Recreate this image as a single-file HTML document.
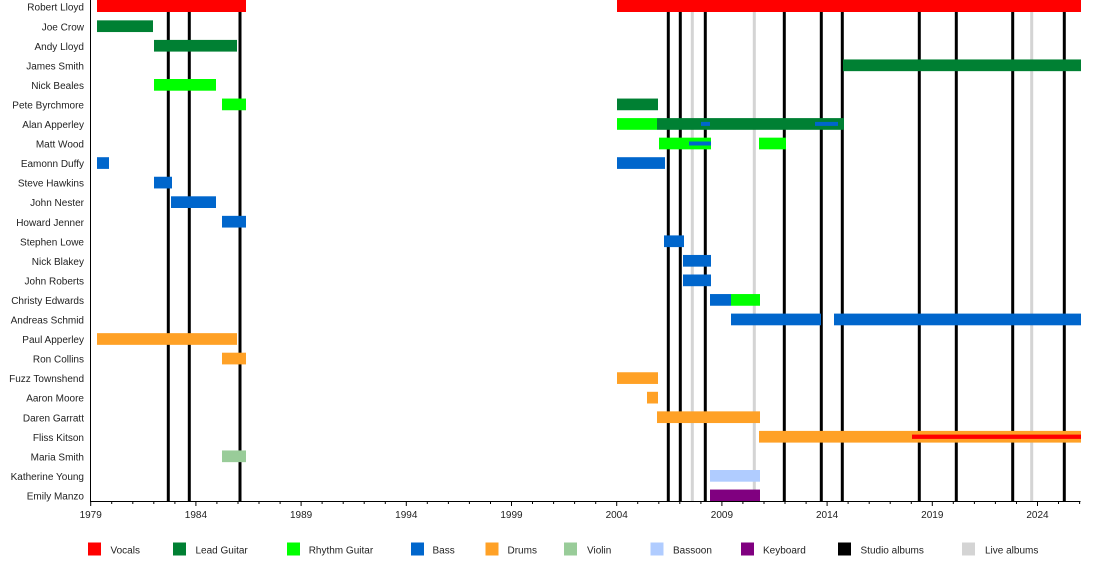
<!DOCTYPE html>
<html><head><meta charset="utf-8"><style>
html,body{margin:0;padding:0;background:#fff;}
svg{display:block;}
text{font-family:"Liberation Sans",Arial,sans-serif;font-size:10px;fill:#222;}
</style></head><body>
<svg width="1100" height="580" viewBox="0 0 1100 580" xmlns="http://www.w3.org/2000/svg">
<rect width="1100" height="580" fill="#fff"/>
<!-- album lines -->
<g stroke="#d4d4d4" stroke-width="3">
<line x1="692.3" y1="0" x2="692.3" y2="501"/>
<line x1="754.3" y1="0" x2="754.3" y2="501"/>
<line x1="1031.7" y1="0" x2="1031.7" y2="501"/>
</g>
<g stroke="#000" stroke-width="3">
<line x1="168.3" y1="0" x2="168.3" y2="501"/>
<line x1="189.3" y1="0" x2="189.3" y2="501"/>
<line x1="240" y1="0" x2="240" y2="501"/>
<line x1="668.3" y1="0" x2="668.3" y2="501"/>
<line x1="680.3" y1="0" x2="680.3" y2="501"/>
<line x1="705.3" y1="0" x2="705.3" y2="501"/>
<line x1="784.3" y1="0" x2="784.3" y2="501"/>
<line x1="821.3" y1="0" x2="821.3" y2="501"/>
<line x1="842.3" y1="0" x2="842.3" y2="501"/>
<line x1="919.3" y1="0" x2="919.3" y2="501"/>
<line x1="956.3" y1="0" x2="956.3" y2="501"/>
<line x1="1012.7" y1="0" x2="1012.7" y2="501"/>
<line x1="1064.3" y1="0" x2="1064.3" y2="501"/>
</g>
<!-- bars -->
<rect x="97" y="0" width="149" height="12" fill="#ff0000"/>
<rect x="617" y="0" width="464" height="12" fill="#ff0000"/>
<rect x="97" y="20.35" width="56" height="11.7" fill="#008033"/>
<rect x="154" y="39.9" width="83" height="11.7" fill="#008033"/>
<rect x="843" y="59.45" width="238" height="11.7" fill="#008033"/>
<rect x="154" y="79" width="62" height="11.7" fill="#00ff00"/>
<rect x="222" y="98.55" width="24" height="11.7" fill="#00ff00"/>
<rect x="617" y="98.55" width="41" height="11.7" fill="#008033"/>
<rect x="617" y="118.1" width="40" height="11.7" fill="#00ff00"/>
<rect x="657" y="118.1" width="187" height="11.7" fill="#008033"/>
<rect x="701" y="121.9" width="9" height="4" fill="#0066cc"/>
<rect x="815" y="121.9" width="23" height="4" fill="#0066cc"/>
<rect x="659" y="137.65" width="52" height="11.7" fill="#00ff00"/>
<rect x="689" y="141.5" width="22" height="4" fill="#0066cc"/>
<rect x="759" y="137.65" width="27" height="11.7" fill="#00ff00"/>
<rect x="97" y="157.2" width="12" height="11.7" fill="#0066cc"/>
<rect x="617" y="157.2" width="48" height="11.7" fill="#0066cc"/>
<rect x="154" y="176.75" width="18" height="11.7" fill="#0066cc"/>
<rect x="171" y="196.3" width="45" height="11.7" fill="#0066cc"/>
<rect x="222" y="215.85" width="24" height="11.7" fill="#0066cc"/>
<rect x="664" y="235.4" width="20" height="11.7" fill="#0066cc"/>
<rect x="683" y="254.95" width="28" height="11.7" fill="#0066cc"/>
<rect x="683" y="274.5" width="28" height="11.7" fill="#0066cc"/>
<rect x="710" y="294.05" width="21" height="11.7" fill="#0066cc"/>
<rect x="731" y="294.05" width="29" height="11.7" fill="#00ff00"/>
<rect x="731" y="313.6" width="90" height="11.7" fill="#0066cc"/>
<rect x="834" y="313.6" width="247" height="11.7" fill="#0066cc"/>
<rect x="97" y="333.15" width="140" height="11.7" fill="#ffa126"/>
<rect x="222" y="352.7" width="24" height="11.7" fill="#ffa126"/>
<rect x="617" y="372.25" width="41" height="11.7" fill="#ffa126"/>
<rect x="647" y="391.8" width="11" height="11.7" fill="#ffa126"/>
<rect x="657" y="411.35" width="103" height="11.7" fill="#ffa126"/>
<rect x="759" y="430.9" width="322" height="11.7" fill="#ffa126"/>
<rect x="912" y="434.6" width="169" height="4.3" fill="#ff0000"/>
<rect x="222" y="450.45" width="24" height="11.7" fill="#99cc99"/>
<rect x="710" y="470" width="50" height="11.7" fill="#b0ccff"/>
<rect x="710" y="489.55" width="50" height="11.7" fill="#800080"/>

<!-- axes -->
<line x1="90.5" y1="0" x2="90.5" y2="501.5" stroke="#000" stroke-width="1"/>
<line x1="90" y1="501.5" x2="1080.5" y2="501.5" stroke="#000" stroke-width="1"/>
<g stroke="#000" stroke-width="1">
<line x1="90.7" y1="501" x2="90.7" y2="506"/><line x1="111.7" y1="501" x2="111.7" y2="504"/><line x1="132.8" y1="501" x2="132.8" y2="504"/><line x1="153.8" y1="501" x2="153.8" y2="504"/><line x1="174.9" y1="501" x2="174.9" y2="504"/>
<line x1="195.9" y1="501" x2="195.9" y2="506"/><line x1="216.9" y1="501" x2="216.9" y2="504"/><line x1="238" y1="501" x2="238" y2="504"/><line x1="259" y1="501" x2="259" y2="504"/><line x1="280.1" y1="501" x2="280.1" y2="504"/>
<line x1="301.1" y1="501" x2="301.1" y2="506"/><line x1="322.1" y1="501" x2="322.1" y2="504"/><line x1="343.2" y1="501" x2="343.2" y2="504"/><line x1="364.2" y1="501" x2="364.2" y2="504"/><line x1="385.3" y1="501" x2="385.3" y2="504"/>
<line x1="406.3" y1="501" x2="406.3" y2="506"/><line x1="427.3" y1="501" x2="427.3" y2="504"/><line x1="448.4" y1="501" x2="448.4" y2="504"/><line x1="469.4" y1="501" x2="469.4" y2="504"/><line x1="490.5" y1="501" x2="490.5" y2="504"/>
<line x1="511.5" y1="501" x2="511.5" y2="506"/><line x1="532.5" y1="501" x2="532.5" y2="504"/><line x1="553.6" y1="501" x2="553.6" y2="504"/><line x1="574.6" y1="501" x2="574.6" y2="504"/><line x1="595.7" y1="501" x2="595.7" y2="504"/>
<line x1="616.7" y1="501" x2="616.7" y2="506"/><line x1="637.7" y1="501" x2="637.7" y2="504"/><line x1="658.8" y1="501" x2="658.8" y2="504"/><line x1="679.8" y1="501" x2="679.8" y2="504"/><line x1="700.9" y1="501" x2="700.9" y2="504"/>
<line x1="721.9" y1="501" x2="721.9" y2="506"/><line x1="742.9" y1="501" x2="742.9" y2="504"/><line x1="764" y1="501" x2="764" y2="504"/><line x1="785" y1="501" x2="785" y2="504"/><line x1="806.1" y1="501" x2="806.1" y2="504"/>
<line x1="827.1" y1="501" x2="827.1" y2="506"/><line x1="848.1" y1="501" x2="848.1" y2="504"/><line x1="869.2" y1="501" x2="869.2" y2="504"/><line x1="890.2" y1="501" x2="890.2" y2="504"/><line x1="911.3" y1="501" x2="911.3" y2="504"/>
<line x1="932.3" y1="501" x2="932.3" y2="506"/><line x1="953.3" y1="501" x2="953.3" y2="504"/><line x1="974.4" y1="501" x2="974.4" y2="504"/><line x1="995.4" y1="501" x2="995.4" y2="504"/><line x1="1016.5" y1="501" x2="1016.5" y2="504"/>
<line x1="1037.5" y1="501" x2="1037.5" y2="506"/><line x1="1058.5" y1="501" x2="1058.5" y2="504"/><line x1="1079.6" y1="501" x2="1079.6" y2="504"/>
</g>
<g text-anchor="middle">
<text x="90.7" y="518">1979</text>
<text x="195.9" y="518">1984</text>
<text x="301.1" y="518">1989</text>
<text x="406.3" y="518">1994</text>
<text x="511.5" y="518">1999</text>
<text x="616.7" y="518">2004</text>
<text x="721.9" y="518">2009</text>
<text x="827.1" y="518">2014</text>
<text x="932.3" y="518">2019</text>
<text x="1037.5" y="518">2024</text>
</g>

<!-- names -->
<g text-anchor="end">
<text x="84" y="10.7">Robert Lloyd</text>
<text x="84" y="30.25">Joe Crow</text>
<text x="84" y="49.8">Andy Lloyd</text>
<text x="84" y="69.35">James Smith</text>
<text x="84" y="88.9">Nick Beales</text>
<text x="84" y="108.45">Pete Byrchmore</text>
<text x="84" y="128">Alan Apperley</text>
<text x="84" y="147.55">Matt Wood</text>
<text x="84" y="167.1">Eamonn Duffy</text>
<text x="84" y="186.65">Steve Hawkins</text>
<text x="84" y="206.2">John Nester</text>
<text x="84" y="225.75">Howard Jenner</text>
<text x="84" y="245.3">Stephen Lowe</text>
<text x="84" y="264.85">Nick Blakey</text>
<text x="84" y="284.4">John Roberts</text>
<text x="84" y="303.95">Christy Edwards</text>
<text x="84" y="323.5">Andreas Schmid</text>
<text x="84" y="343.05">Paul Apperley</text>
<text x="84" y="362.6">Ron Collins</text>
<text x="84" y="382.15">Fuzz Townshend</text>
<text x="84" y="401.7">Aaron Moore</text>
<text x="84" y="421.25">Daren Garratt</text>
<text x="84" y="440.8">Fliss Kitson</text>
<text x="84" y="460.35">Maria Smith</text>
<text x="84" y="479.9">Katherine Young</text>
<text x="84" y="499.45">Emily Manzo</text>
</g>

<!-- legend -->
<rect x="88" y="542.5" width="13" height="13" fill="#ff0000"/>
<text x="110.5" y="553.5">Vocals</text>
<rect x="173" y="542.5" width="13" height="13" fill="#008033"/>
<text x="195.5" y="553.5">Lead Guitar</text>
<rect x="287" y="542.5" width="13" height="13" fill="#00ff00"/>
<text x="308.7" y="553.5">Rhythm Guitar</text>
<rect x="411" y="542.5" width="13" height="13" fill="#0066cc"/>
<text x="432.5" y="553.5">Bass</text>
<rect x="485.5" y="542.5" width="13" height="13" fill="#ffa126"/>
<text x="507.5" y="553.5">Drums</text>
<rect x="564" y="542.5" width="13" height="13" fill="#99cc99"/>
<text x="587" y="553.5">Violin</text>
<rect x="650.5" y="542.5" width="13" height="13" fill="#b0ccff"/>
<text x="673" y="553.5">Bassoon</text>
<rect x="741" y="542.5" width="13" height="13" fill="#800080"/>
<text x="763" y="553.5">Keyboard</text>
<rect x="838" y="542.5" width="13" height="13" fill="#000"/>
<text x="860.5" y="553.5">Studio albums</text>
<rect x="962" y="542.5" width="13" height="13" fill="#d4d4d4"/>
<text x="985" y="553.5">Live albums</text>
</svg>
</body></html>
